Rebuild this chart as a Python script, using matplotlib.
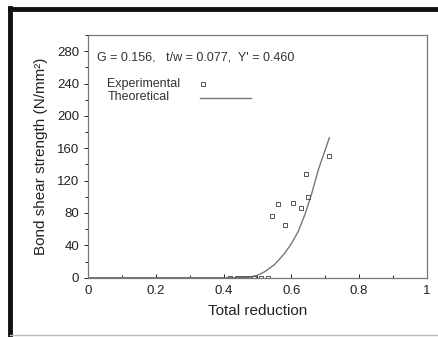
import matplotlib
matplotlib.use("Agg")
import matplotlib.pyplot as plt
from matplotlib.lines import Line2D
from matplotlib.ticker import MultipleLocator

plt.rcParams['font.family'] = ['Liberation Sans', 'DejaVu Sans']

# Experimental data
exp_x = [0.42, 0.44, 0.455, 0.465, 0.475, 0.49, 0.51, 0.53,
         0.543, 0.561, 0.580, 0.606, 0.628, 0.643, 0.650, 0.712]
exp_y = [0, 0, 0, 0, 0, 0, 0, 0,
         76, 91, 65, 92, 86, 128, 100, 150]

# Theoretical curve
theo_x = [0.0, 0.46, 0.48, 0.50, 0.52, 0.55, 0.58, 0.60, 0.62, 0.64, 0.66, 0.68, 0.70, 0.712]
theo_y = [0, 0, 1, 3, 7, 16, 30, 42, 57, 78, 104, 134, 158, 173]

xticks = [0, 0.2, 0.4, 0.6, 0.8, 1]
xticklabels = ['0', '0.2', '0.4', '0.6', '0.8', '1']
yticks = [0, 40, 80, 120, 160, 200, 240, 280]

fig = plt.figure(figsize=(4.39, 3.37), dpi=100)
ax = fig.add_axes([0.2005, 0.176, 0.772, 0.72])

gray = '#777777'
ax.plot(theo_x, theo_y, color=gray, lw=1.0)
ax.plot(exp_x, exp_y, linestyle='none', marker='s', markersize=3.5,
        markerfacecolor='none', markeredgecolor='#555555', markeredgewidth=0.7)

ax.set_xlim(0, 1)
ax.set_ylim(0, 300)
ax.set_xticks(xticks)
ax.set_xticklabels(xticklabels)
ax.set_yticks(yticks)
ax.xaxis.set_minor_locator(MultipleLocator(0.1))
ax.yaxis.set_minor_locator(MultipleLocator(20))
ax.tick_params(axis='both', labelsize=9.5, colors='#222222', width=0.7, length=3)
ax.tick_params(axis='both', which='minor', width=0.7, length=2.5, color='#222222')
ax.tick_params(axis='x', direction='in', pad=5)
ax.tick_params(axis='x', which='minor', direction='in')
for s in ax.spines.values():
    s.set_color(gray)
    s.set_linewidth(0.9)

ax.set_xlabel('Total reduction', fontsize=11, color='#222222', labelpad=5)
ax.set_ylabel('Bond shear strength (N/mm²)', fontsize=11, color='#222222', labelpad=6)

ax.text(0.027, 272, "G = 0.156,   t/w = 0.077,  Y' = 0.460", fontsize=9,
        color='#333333', va='center', ha='left')
ax.text(0.057, 240, 'Experimental', fontsize=9, color='#333333', va='center')
ax.text(0.057, 224, 'Theoretical', fontsize=9, color='#333333', va='center')
ax.plot([0.339], [239], linestyle='none', marker='s', markersize=3,
        markerfacecolor='none', markeredgecolor='#555555', markeredgewidth=0.7)
ax.plot([0.33, 0.48], [222, 222], color=gray, lw=1.0)

# page frame from the scan
fig.add_artist(Line2D([0.022, 1.0], [0.973, 0.973], color='#111111', lw=3.5,
                      transform=fig.transFigure))
fig.add_artist(Line2D([0.022, 0.022], [0.005, 0.975], color='#111111', lw=3.5,
                      transform=fig.transFigure))
fig.add_artist(Line2D([0.022, 1.0], [0.006, 0.006], color='#bbbbbb', lw=1.0,
                      transform=fig.transFigure))

fig.savefig('out.png', dpi=100)
